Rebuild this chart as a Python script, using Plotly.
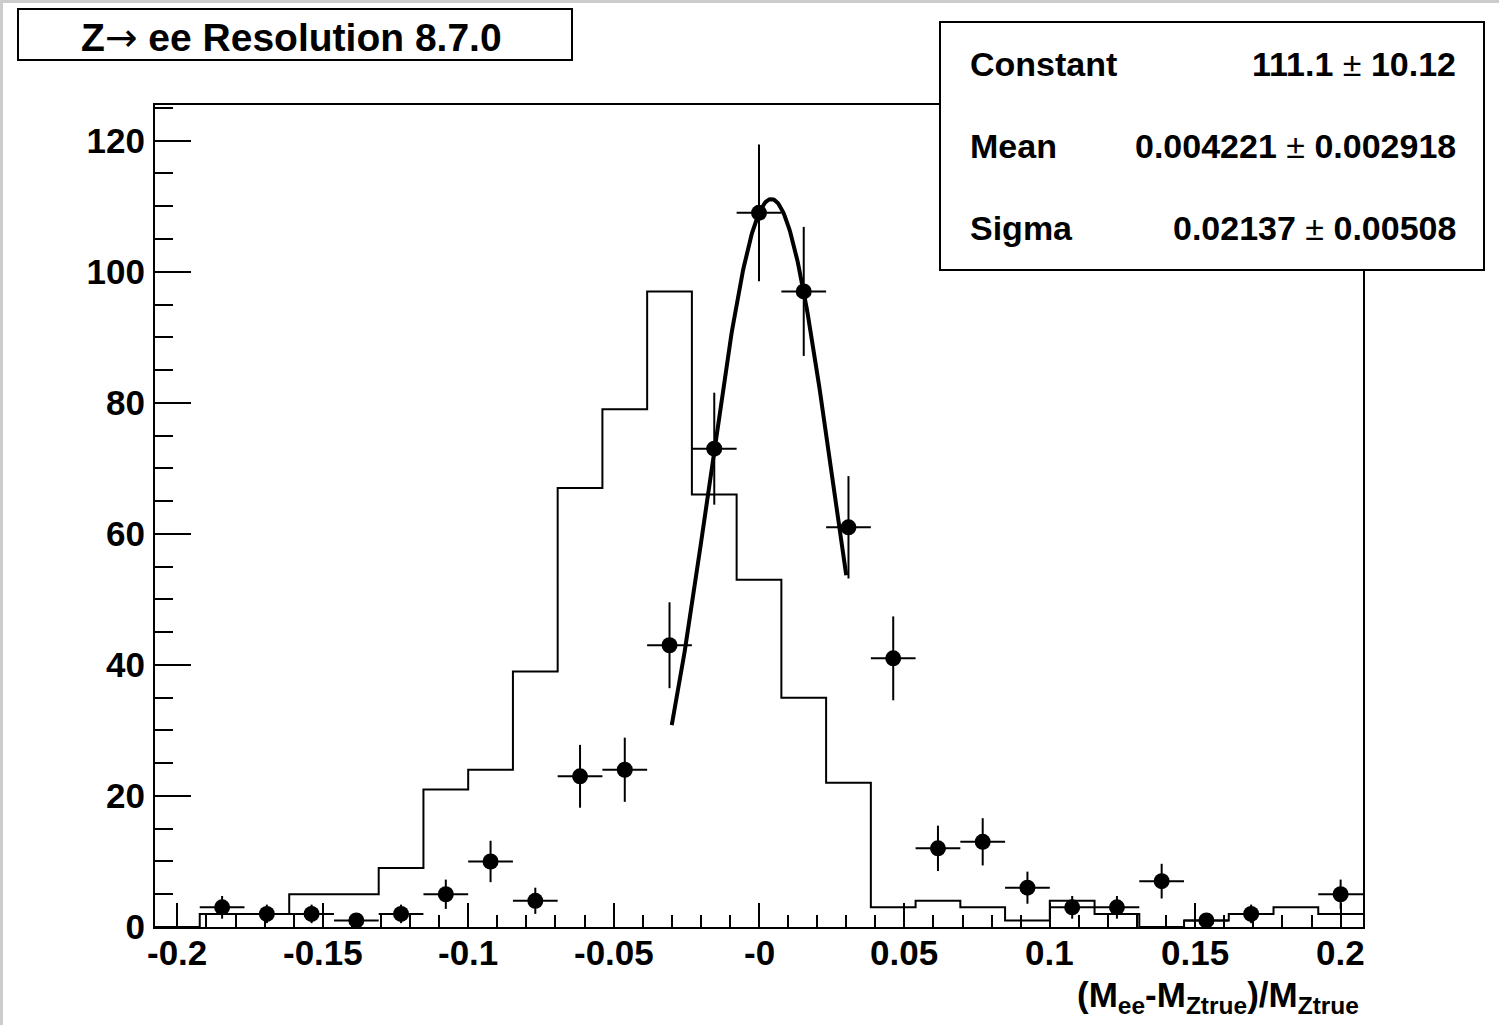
import numpy as np
import plotly.graph_objects as go

# ---------------- data ----------------
bin_width = 0.4 / 26
bin_index = list(range(-13, 14))  # 27 bins, centres at k*bin_width
hist_counts = [0, 2, 2, 5, 5, 9, 21, 24, 39, 67, 79, 97, 66, 53, 35, 22,
               3, 4, 3, 1, 4, 2, 0, 1, 2, 3, 2]
data_counts = [0, 3, 2, 2, 1, 2, 5, 10, 4, 23, 24, 43, 73, 109, 97, 61,
               41, 12, 13, 6, 3, 3, 7, 1, 2, 0, 5]

fit_constant = 111.1
fit_mean = 0.004221
fit_sigma = 0.02137
fit_range = [-0.03, 0.03]

x_tickvals = [-0.2, -0.15, -0.1, -0.05, 0.0, 0.05, 0.1, 0.15, 0.2]
x_ticktext = ["-0.2", "-0.15", "-0.1", "-0.05", "-0", "0.05", "0.1", "0.15", "0.2"]
y_tickvals = [0, 20, 40, 60, 80, 100, 120]

stats_labels = ["Constant", "Mean", "Sigma"]
stats_values = [("111.1", "10.12"), ("0.004221", "0.002918"), ("0.02137", "0.00508")]

# ---------------- layout geometry ----------------
W, H = 1499, 1025
L, R, T, B = 155, 136, 105, 98
PW, PH = W - L - R, H - T - B


def px(xp):
    return (xp - L) / PW


def py(yp):
    return (H - B - yp) / PH


FONT = "Liberation Sans, Arial, Helvetica, sans-serif"

centers = [k * bin_width for k in bin_index]
left_edges = [c - bin_width / 2 for c in centers]
x_lo = left_edges[0]
x_hi = centers[-1] + bin_width / 2

fig = go.Figure()

# histogram outline
fig.add_trace(go.Scatter(
    x=left_edges + [x_hi], y=hist_counts + [hist_counts[-1]],
    mode="lines", line=dict(shape="hv", color="black", width=2),
    hoverinfo="skip", showlegend=False))

# data points with errors
px_pts = [c for c, n in zip(centers, data_counts) if n > 0]
py_pts = [n for n in data_counts if n > 0]
fig.add_trace(go.Scatter(
    x=px_pts, y=py_pts, mode="markers",
    marker=dict(color="black", size=16, symbol="circle"),
    error_y=dict(type="data", array=[np.sqrt(n) for n in py_pts],
                 width=0, thickness=2, color="black"),
    error_x=dict(type="constant", value=bin_width / 2,
                 width=0, thickness=2, color="black"),
    showlegend=False))

# gaussian fit
xf = np.linspace(fit_range[0], fit_range[1], 200)
yf = fit_constant * np.exp(-0.5 * ((xf - fit_mean) / fit_sigma) ** 2)
fig.add_trace(go.Scatter(x=xf, y=yf, mode="lines",
                         line=dict(color="black", width=4),
                         showlegend=False))

tickfont = dict(family=FONT, size=35, color="black", weight="bold")

fig.update_xaxes(
    range=[x_lo, x_hi], tickmode="array", tickvals=x_tickvals, ticktext=x_ticktext,
    showticklabels=False,
    ticks="inside", ticklen=24, tickwidth=2, tickcolor="black",
    minor=dict(ticks="inside", ticklen=12, tickwidth=2, tickcolor="black",
               tickmode="array", tickvals=[round(-0.2 + 0.01 * i, 2) for i in range(41)]),
    showline=True, linecolor="black", linewidth=2, mirror=True,
    showgrid=False, zeroline=False)

fig.update_yaxes(
    range=[0, 125.45], tickmode="array", tickvals=y_tickvals,
    ticks="inside", ticklen=36, tickwidth=2, tickcolor="black",
    minor=dict(ticks="inside", ticklen=18, tickwidth=2, tickcolor="black",
               tickmode="array", tickvals=list(range(0, 126, 5))),
    showline=True, linecolor="black", linewidth=2, mirror=True,
    showgrid=False, zeroline=False, tickfont=tickfont, ticklabelstandoff=1)

shapes = []
annotations = []

# x tick labels (placed on the x axis scale)
for v, t in zip(x_tickvals, x_ticktext):
    annotations.append(dict(xref="x", yref="paper", x=v, y=py(952),
                            xanchor="center", yanchor="middle", text=t, showarrow=False,
                            font=tickfont))

# gray canvas border (top, left)
shapes.append(dict(type="rect", xref="paper", yref="paper",
                   x0=px(0), x1=px(W), y0=py(3), y1=py(0),
                   fillcolor="#cccccc", line=dict(width=0)))
shapes.append(dict(type="rect", xref="paper", yref="paper",
                   x0=px(0), x1=px(3), y0=py(H), y1=py(0),
                   fillcolor="#cccccc", line=dict(width=0)))

# title box
shapes.append(dict(type="rect", xref="paper", yref="paper",
                   x0=px(18), x1=px(572), y0=py(60), y1=py(9),
                   fillcolor="white", line=dict(color="black", width=2)))
annotations.append(dict(
    xref="paper", yref="paper", x=px(291), y=py(37), xanchor="center", yanchor="middle",
    text="Z<span style='font-family:DejaVu Sans;font-weight:normal'>\u2192</span> ee Resolution 8.7.0",
    showarrow=False, font=dict(family=FONT, size=39, color="black", weight="bold")))

# stats box
shapes.append(dict(type="rect", xref="paper", yref="paper",
                   x0=px(940), x1=px(1484), y0=py(270), y1=py(22),
                   fillcolor="white", line=dict(color="black", width=2)))
row_y = [64, 146, 228]
for lab, (val, err), yy in zip(stats_labels, stats_values, row_y):
    annotations.append(dict(xref="paper", yref="paper", x=px(968), y=py(yy),
                            xanchor="left", yanchor="middle", text=lab, showarrow=False,
                            font=dict(family=FONT, size=34, color="black", weight="bold")))
    annotations.append(dict(xref="paper", yref="paper", x=px(1458), y=py(yy),
                            xanchor="right", yanchor="middle",
                            text=f"{val} <span style='font-weight:normal'>\u00b1</span> {err}",
                            showarrow=False,
                            font=dict(family=FONT, size=34, color="black", weight="bold")))

# x-axis title
annotations.append(dict(
    xref="paper", yref="paper", x=px(1361), y=py(997), xanchor="right", yanchor="middle",
    text="(M<sub>ee</sub>-M<sub>Ztrue</sub>)/M<sub>Ztrue</sub>", showarrow=False,
    font=dict(family=FONT, size=35, color="black", weight="bold")))

fig.update_layout(
    width=W, height=H, margin=dict(l=L, r=R, t=T, b=B, autoexpand=False),
    paper_bgcolor="white", plot_bgcolor="white",
    shapes=shapes, annotations=annotations, showlegend=False)

fig.write_html("out.html")
